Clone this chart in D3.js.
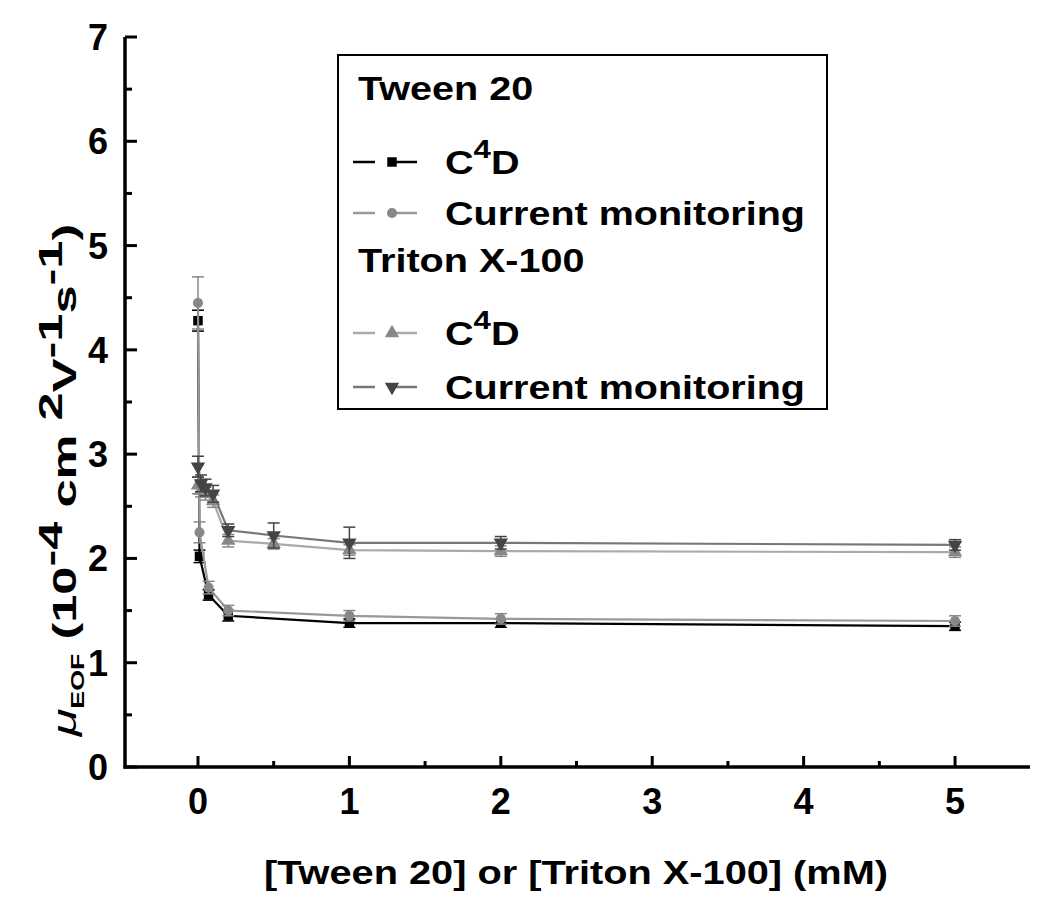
<!DOCTYPE html>
<html>
<head>
<meta charset="utf-8">
<script src="https://cdn.jsdelivr.net/npm/d3@7"></script>
<style>
  html, body { margin: 0; padding: 0; background: #fff; }
  svg { display: block; }
  text { font-family: "Liberation Sans", Arial, sans-serif; font-weight: bold; fill: #000; }
</style>
</head>
<body>
<svg id="chart" width="1050" height="903"></svg>
<script>
// ---- data ----
const xTicks = [0, 1, 2, 3, 4, 5];
const yTicks = [0, 1, 2, 3, 4, 5, 6, 7];

const tweenX      = [0, 0.01, 0.07, 0.2, 1, 2, 5];
const tweenC4D    = [4.28, 2.02, 1.65, 1.45, 1.38, 1.38, 1.35];
const tweenC4DErr = [0.1, 0.06, 0.05, 0.05, 0.04, 0.04, 0.04];
const tweenCM     = [4.45, 2.25, 1.72, 1.50, 1.45, 1.42, 1.40];
const tweenCMErr  = [0.25, 0.1, 0.06, 0.05, 0.05, 0.05, 0.05];

const tritonX      = [0, 0.02, 0.05, 0.1, 0.2, 0.5, 1, 2, 5];
const tritonC4D    = [2.70, 2.65, 2.62, 2.55, 2.17, 2.14, 2.08, 2.07, 2.06];
const tritonC4DErr = [0.08, 0.06, 0.06, 0.06, 0.06, 0.05, 0.05, 0.05, 0.05];
const tritonCM     = [2.88, 2.72, 2.68, 2.62, 2.27, 2.22, 2.15, 2.15, 2.13];
const tritonCMErr  = [0.1, 0.08, 0.08, 0.08, 0.06, 0.12, 0.15, 0.06, 0.05];

const series = [
  { name: "C4D",  xs: tweenX,  ys: tweenC4D,  err: tweenC4DErr,  symbol: d3.symbolSquare,   rot: 0,   line: "#000",  fill: "#000",  size: 90 },
  { name: "CM",   xs: tweenX,  ys: tweenCM,   err: tweenCMErr,   symbol: d3.symbolCircle,   rot: 0,   line: "#999",  fill: "#888",  size: 80 },
  { name: "C4D",  xs: tritonX, ys: tritonC4D, err: tritonC4DErr, symbol: d3.symbolTriangle, rot: 0,   line: "#aaa",  fill: "#888",  size: 90 },
  { name: "CM",   xs: tritonX, ys: tritonCM,  err: tritonCMErr,  symbol: d3.symbolTriangle, rot: 180, line: "#777",  fill: "#444",  size: 90 }
];

// ---- layout ----
const svg = d3.select("#chart");
const x = d3.scaleLinear().domain([-0.482, 5.495]).range([125, 1030]);
const y = d3.scaleLinear().domain([0, 7]).range([767, 37]);

// axes
const xAxisG = svg.append("g").attr("transform", `translate(0,${y(0)})`);
xAxisG.append("line").attr("x1", x.range()[0] - 1.5).attr("x2", x.range()[1]).attr("stroke", "#000").attr("stroke-width", 3.5);
const xMinor = d3.range(0.5, 5.5, 1);
xAxisG.selectAll(".xt").data(xTicks).join("line")
  .attr("x1", d => x(d)).attr("x2", d => x(d)).attr("y1", 0).attr("y2", -11)
  .attr("stroke", "#000").attr("stroke-width", 3);
xAxisG.selectAll(".xm").data(xMinor).join("line")
  .attr("x1", d => x(d)).attr("x2", d => x(d)).attr("y1", 0).attr("y2", -6)
  .attr("stroke", "#000").attr("stroke-width", 3);
xAxisG.selectAll(".xl").data(xTicks).join("text")
  .attr("x", d => x(d)).attr("y", 47).attr("text-anchor", "middle")
  .attr("font-size", 36).text(d => d);

const yAxisG = svg.append("g").attr("transform", `translate(${x.range()[0]},0)`);
yAxisG.append("line").attr("y1", y(7)).attr("y2", y(0) + 1.5).attr("stroke", "#000").attr("stroke-width", 3.5);
const yMinor = d3.range(0.5, 7, 1);
yAxisG.selectAll(".yt").data(yTicks).join("line")
  .attr("y1", d => y(d)).attr("y2", d => y(d)).attr("x1", 0).attr("x2", 12)
  .attr("stroke", "#000").attr("stroke-width", 3);
yAxisG.selectAll(".ym").data(yMinor).join("line")
  .attr("y1", d => y(d)).attr("y2", d => y(d)).attr("x1", 0).attr("x2", 7)
  .attr("stroke", "#000").attr("stroke-width", 3);
yAxisG.selectAll(".yl").data(yTicks).join("text")
  .attr("x", -17).attr("y", d => y(d) + 13).attr("text-anchor", "end")
  .attr("font-size", 36).text(d => d);

// axis titles
svg.append("text").attr("x", 576).attr("y", 884).attr("text-anchor", "middle")
  .attr("font-size", 34)
  .attr("textLength", 624).attr("lengthAdjust", "spacingAndGlyphs")
  .text("[Tween 20] or [Triton X-100] (mM)");

const ytG = svg.append("g").attr("transform", "translate(76,480) rotate(-90)");
const ytInner = ytG.append("g");
const yt = ytInner.append("text").attr("text-anchor", "middle").attr("font-size", 34);
yt.append("tspan").attr("font-style", "italic").attr("font-weight", "normal").text("μ");
yt.append("tspan").attr("font-size", 18).attr("dy", 8).text("EOF");
yt.append("tspan").attr("dy", -8).text(" (10");
yt.append("tspan").attr("dy", -14).text("-4");
yt.append("tspan").attr("dy", 14).text(" cm");
yt.append("tspan").attr("dy", -14).text(" 2");
yt.append("tspan").attr("dy", 14).text("V");
yt.append("tspan").attr("dy", -14).text("-1");
yt.append("tspan").attr("dy", 14).text("s");
yt.append("tspan").attr("dy", -14).text("-1");
yt.append("tspan").attr("dy", 14).text(")");
{
  const w = yt.node().getComputedTextLength();
  const s = 510 / w;
  ytInner.attr("transform", `scale(${s},1)`);
}

// data
const line = d3.line().x(d => x(d[0])).y(d => y(d[1]));
series.forEach(s => {
  const pts = s.xs.map((xv, i) => [xv, s.ys[i], s.err[i]]);
  const g = svg.append("g");
  g.append("path").attr("d", line(pts)).attr("fill", "none")
    .attr("stroke", s.line).attr("stroke-width", 2.2);
  pts.forEach(p => {
    const cx = x(p[0]);
    g.append("line").attr("x1", cx).attr("x2", cx).attr("y1", y(p[1] - p[2])).attr("y2", y(p[1] + p[2]))
      .attr("stroke", s.fill).attr("stroke-width", 1.5);
    [p[1] - p[2], p[1] + p[2]].forEach(v => {
      g.append("line").attr("x1", cx - 6).attr("x2", cx + 6).attr("y1", y(v)).attr("y2", y(v))
        .attr("stroke", s.fill).attr("stroke-width", 1.5);
    });
  });
  g.selectAll("path.m").data(pts).join("path").attr("class", "m")
    .attr("d", d3.symbol().type(s.symbol).size(s.size))
    .attr("transform", d => `translate(${x(d[0])},${y(d[1])}) rotate(${s.rot})`)
    .attr("fill", s.fill);
});

// legend
const lg = svg.append("g");
lg.append("rect").attr("x", 338).attr("y", 55).attr("width", 489).attr("height", 354)
  .attr("fill", "#fff").attr("stroke", "#000").attr("stroke-width", 2);
const headers = [["Tween 20", 100], ["Triton X-100", 272]];
headers.forEach(h => lg.append("text")
  .attr("transform", `translate(358,${h[1]}) scale(1.2,1)`)
  .attr("font-size", 33).text(h[0]));
const rows = [
  { s: series[0], cy: 162, label: "C4D" },
  { s: series[1], cy: 213, label: "Current monitoring" },
  { s: series[2], cy: 333, label: "C4D" },
  { s: series[3], cy: 387, label: "Current monitoring" }
];
rows.forEach(r => {
  lg.append("line").attr("x1", 353).attr("x2", 430).attr("y1", r.cy).attr("y2", r.cy)
    .attr("stroke", r.s.line).attr("stroke-width", 2.5).attr("stroke-dasharray", "22,10,0,10,22");
  lg.append("path").attr("d", d3.symbol().type(r.s.symbol).size(r.s.size))
    .attr("transform", `translate(392,${r.cy}) rotate(${r.s.rot})`).attr("fill", r.s.fill);
  const t = lg.append("text").attr("transform", `translate(445,${r.cy + 12}) scale(1.2,1)`).attr("font-size", 33);
  if (r.label === "C4D") {
    t.append("tspan").text("C");
    t.append("tspan").attr("dy", -16).attr("font-size", 26).text("4");
    t.append("tspan").attr("dy", 16).text("D");
  } else {
    t.text(r.label).attr("textLength", 300).attr("lengthAdjust", "spacingAndGlyphs");
  }
});
</script>
</body>
</html>
